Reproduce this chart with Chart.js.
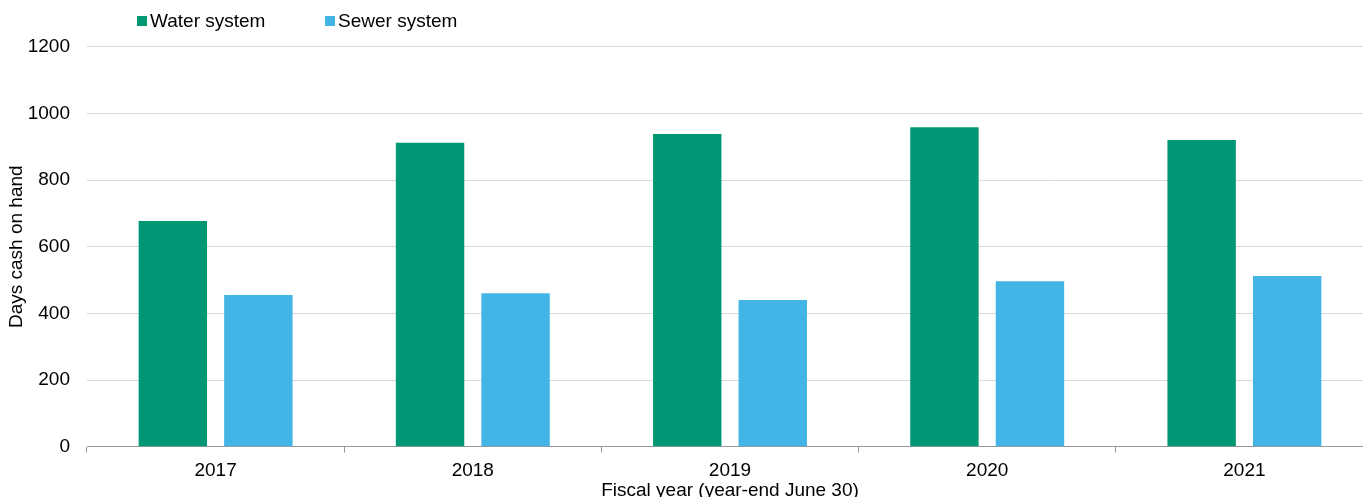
<!DOCTYPE html>
<html>
<head>
<meta charset="utf-8">
<script src="https://cdn.jsdelivr.net/npm/chart.js@4.4.0/dist/chart.umd.min.js"></script>
<style>
	html, body { margin: 0; padding: 0; background: #fff; overflow: hidden; }
	#wrap { width: 1380px; height: 520px; }
</style>
</head>
<body>
<div id="wrap"><canvas id="cashchart" width="1380" height="520"></canvas></div>
<script>

var years = ["2017", "2018", "2019", "2020", "2021"];
var water = [677, 912, 938, 958, 920];
var sewer = [455, 460, 440, 496, 512];
var yTicks = [0, 200, 400, 600, 800, 1000, 1200];

var fontFamily = "'Liberation Sans', Arial, sans-serif";

// legend drawn by hand so it sits where the original has it
var topLegend = {
	id: 'topLegend',
	afterDraw: function(chart){
		var ctx = chart.ctx;
		var xs = [137, 325];
		ctx.save();
		ctx.font = "19px " + fontFamily;
		ctx.textBaseline = 'middle';
		chart.data.datasets.forEach(function(ds, i){
			ctx.fillStyle = ds.backgroundColor;
			ctx.fillRect(xs[i], 16, 10, 10);
			ctx.fillStyle = '#000';
			ctx.fillText(ds.label, xs[i] + 13, 21.5);
		});
		ctx.restore();
	}
};

function init_chart_cash(){

	if( typeof (Chart) === 'undefined'){ return; }

	var chart_settings = {
		type: 'bar',
		data: {
			labels: years,
			datasets: [{
				label: "Water system",
				data: water,
				backgroundColor: "#009775"
			}, {
				label: "Sewer system",
				data: sewer,
				backgroundColor: "#42B5E6"
			}]
		},
		options: {
			responsive: false,
			animation: false,
			categoryPercentage: 0.665,
			barPercentage: 0.8,
			layout: {
				padding: { top: 46.7, right: 7, left: 0, bottom: 0 }
			},
			plugins: {
				legend: { display: false },
				tooltip: { enabled: false }
			},
			scales: {
				x: {
					grid: {
						offset: true,
						drawOnChartArea: false,
						drawTicks: true,
						tickLength: 6,
						color: '#999'
					},
					border: { color: '#999', width: 1 },
					ticks: {
						color: '#000',
						padding: 7,
						font: { family: fontFamily, size: 19 }
					},
					title: {
						display: true,
						text: "Fiscal year (year-end June 30)",
						color: '#000',
						padding: { top: 0, bottom: 17.5 },
						font: { family: fontFamily, size: 19 }
					},
					afterFit: function(scale){ scale.height = 73.3; }
				},
				y: {
					min: 0,
					max: 1200,
					afterBuildTicks: function(scale){
						scale.ticks = yTicks.map(function(v){ return { value: v }; });
					},
					grid: {
						color: '#d9d9d9',
						drawTicks: false
					},
					border: { display: false },
					ticks: {
						color: '#000',
						padding: 17,
						font: { family: fontFamily, size: 19 },
						callback: function(v){ return String(v); }
					},
					title: {
						display: true,
						text: "Days cash on hand",
						color: '#000',
						padding: { top: 5, bottom: 0 },
						font: { family: fontFamily, size: 19 }
					},
					afterFit: function(scale){ scale.width = 87; }
				}
			}
		},
		plugins: [topLegend]
	};

	var chart_element = document.getElementById('cashchart');
	var chart_bar = new Chart(chart_element, chart_settings);

}

init_chart_cash();

</script>
</body>
</html>
